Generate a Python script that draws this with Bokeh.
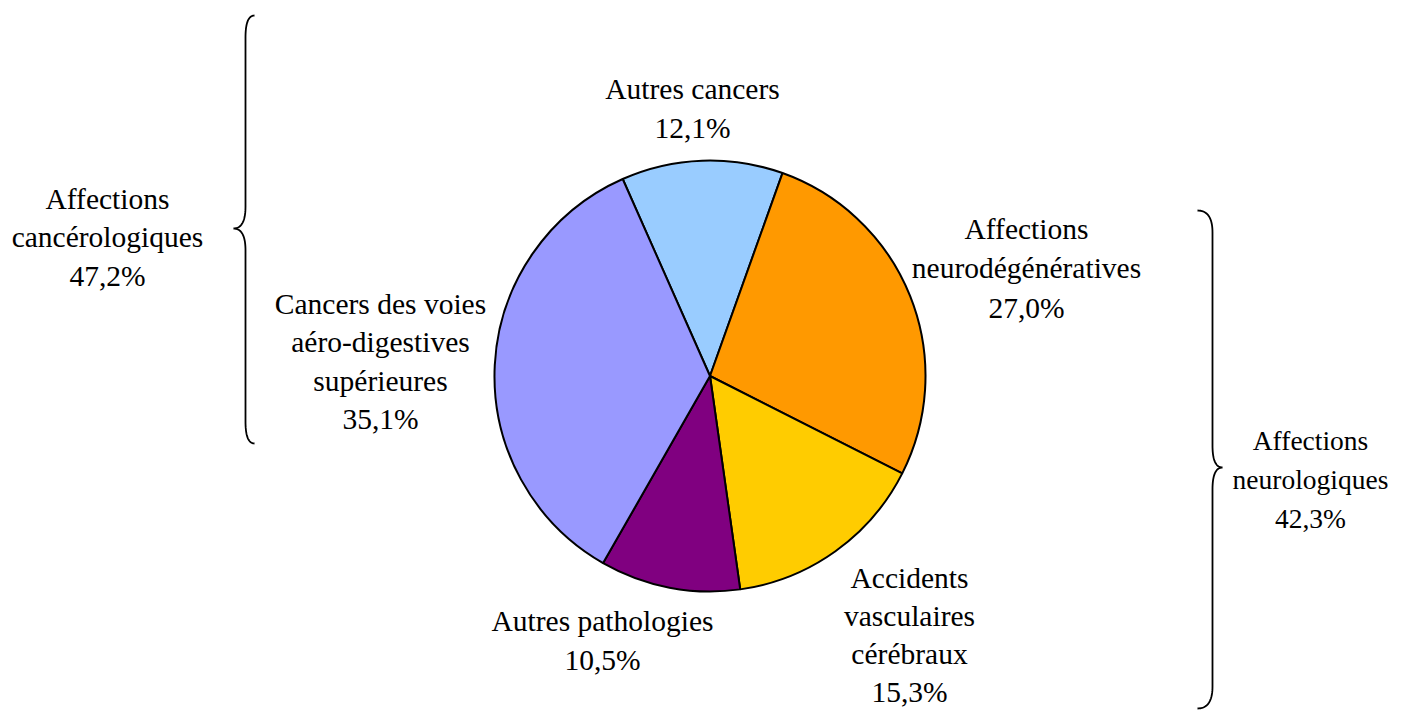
import numpy as np
from bokeh.plotting import figure
from bokeh.models import Range1d
from bokeh.core.properties import value
from bokeh.embed import file_html
from bokeh.resources import INLINE

# ---------------- data ----------------
categories = ["Autres cancers", "Affections neurodégénératives",
              "Accidents vasculaires cérébraux", "Autres pathologies",
              "Cancers des voies aéro-digestives supérieures"]
shares = [12.1, 27.0, 15.3, 10.5, 35.1]
colors = ["#99CCFF", "#FF9900", "#FFCC00", "#800080", "#9999FF"]

slice_label_lines = [
    ["Autres cancers", "12,1%"],
    ["Affections", "neurodégénératives", "27,0%"],
    ["Accidents", "vasculaires", "cérébraux", "15,3%"],
    ["Autres pathologies", "10,5%"],
    ["Cancers des voies", "aéro-digestives", "supérieures", "35,1%"],
]
group_label_lines = [
    ["Affections", "cancérologiques", "47,2%"],
    ["Affections", "neurologiques", "42,3%"],
]

# ---------------- layout (pixel space, origin at top-left of the figure) ----------------
FW, FH = 1388, 711
def Y(py):
    return FH - py

cx, cy, R = 709.5, 375.5, 215.5
start_offset_cw = -23.9  # degrees, clockwise from 12 o'clock
FONT = value("Liberation Serif")
FS = "29.5px"
TEXT_SHIFT = -10  # compensate renderer baseline offset

# (center x, first baseline y, line spacing, font size)
slice_label_pos = [(692, 98, 39.5, FS), (1026, 238, 39.5, FS), (909, 587, 38.3, FS),
                   (602, 630, 39.5, FS), (380, 313, 38.5, FS)]
group_label_pos = [(107, 208, 38.5, FS), (1310, 450, 39, "27.5px")]

p = figure(width=FW, height=FH, output_backend="svg", toolbar_location=None,
           x_range=Range1d(0, FW), y_range=Range1d(0, FH),
           min_border=0, background_fill_color="white", border_fill_color="white")
p.axis.visible = False
p.grid.visible = False
p.outline_line_color = None

# pie wedges
shares_arr = np.array(shares)
cum = np.concatenate([[0], np.cumsum(shares_arr)])[:-1]
start_cw = start_offset_cw + cum * 3.6
end_cw = start_cw + shares_arr * 3.6
start_a = np.radians(90 - start_cw)
end_a = np.radians(90 - end_cw)
p.wedge(x=[cx] * len(shares), y=[Y(cy)] * len(shares), radius=R,
        start_angle=list(start_a), end_angle=list(end_a), direction="clock",
        fill_color=colors, line_color="black", line_width=2)

# labels
def draw_label(lines, pos):
    x0, b0, step, fs = pos
    xs = [x0] * len(lines)
    ys = [Y(b0 + TEXT_SHIFT + i * step) for i in range(len(lines))]
    p.text(x=xs, y=ys, text=lines, text_font=FONT, text_font_size=fs,
           text_color="black", text_align="center", text_baseline="alphabetic")

for lines, pos in zip(slice_label_lines, slice_label_pos):
    draw_label(lines, pos)
for lines, pos in zip(group_label_lines, group_label_pos):
    draw_label(lines, pos)

# braces
def quad(p0, c, p1, n=20):
    t = np.linspace(0, 1, n)[:, None]
    p0, c, p1 = map(np.array, (p0, c, p1))
    return (1 - t) ** 2 * p0 + 2 * (1 - t) * t * c + t ** 2 * p1

def brace(x_end, x_line, x_tip, y_top, y_tip, y_bot, r=22):
    segs = [
        quad((x_end, y_top), (x_line, y_top), (x_line, y_top + r)),
        np.array([[x_line, y_top + r], [x_line, y_tip - r]]),
        quad((x_line, y_tip - r), (x_line, y_tip), (x_tip, y_tip)),
        quad((x_tip, y_tip), (x_line, y_tip), (x_line, y_tip + r)),
        np.array([[x_line, y_tip + r], [x_line, y_bot - r]]),
        quad((x_line, y_bot - r), (x_line, y_bot), (x_end, y_bot)),
    ]
    pts = np.vstack(segs)
    p.line(x=pts[:, 0], y=[Y(v) for v in pts[:, 1]], line_color="black", line_width=1.8)

brace(254, 245, 233, 15, 228, 443)
brace(1197, 1212, 1222, 210, 467, 708)

open("out.html", "w").write(file_html(p, INLINE))
